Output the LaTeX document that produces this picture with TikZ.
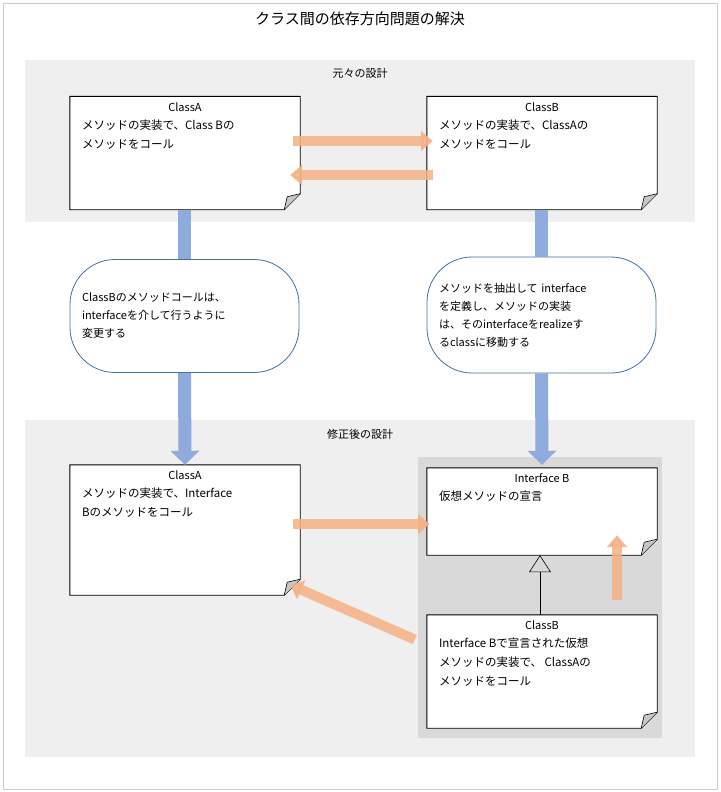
\documentclass[tikz,border=0pt]{standalone}
\usepackage{fontspec}
\setmainfont{Noto Sans CJK JP}
\usetikzlibrary{arrows.meta,positioning}
\definecolor{bandgray}{HTML}{EFEFEF}
\definecolor{boxgray}{HTML}{D9D9D9}
\definecolor{flowblue}{HTML}{8FAADC}
\definecolor{edgeblue}{HTML}{41719C}
\definecolor{callorange}{HTML}{F4B183}
\tikzset{
  notebg/.style={draw=none, rectangle, inner sep=0pt},
  notetitle/.style={font=\fontsize{11}{13}\selectfont, inner sep=0pt},
  notebody/.style={font=\fontsize{11.5}{19}\selectfont, align=left, inner sep=0pt},
  bubble/.style={draw=edgeblue, fill=white, rounded corners=45pt, line width=0.8pt,
    text width=205pt, align=left, font=\fontsize{11}{18}\selectfont, inner sep=12pt},
  flow/.style={line width=13pt, flowblue, -{Triangle[width=28pt,length=14pt]}},
  call/.style={line width=10pt, callorange, opacity=0.85, -{Triangle[width=20pt,length=12pt]}},
  band/.style={fill=bandgray, draw=none},
  heading/.style={font=\fontsize{11}{13}\selectfont}
}
% note with folded corner
\newcommand\dogear[1]{%
  \draw[fill=white, line width=0.9pt] (#1.north west) -- (#1.north east)
    -- ([yshift=16pt]#1.south east) -- ([xshift=-16pt]#1.south east)
    -- (#1.south west) -- cycle;
  \draw[fill=gray!45, line width=0.6pt] ([yshift=16pt]#1.south east)
    -- ([xshift=-13pt,yshift=13pt]#1.south east) -- ([xshift=-16pt]#1.south east);}
\newcommand\notebox[6]{%
  \node[notebg, minimum width=#3, minimum height=#4] (#1) at (#2) {};
  \dogear{#1}
  \node[notetitle, anchor=north] at ([yshift=-6pt]#1.north) {#5};
  \node[notebody, anchor=north west] at ([xshift=12pt,yshift=-23pt]#1.north west) {#6};}
\begin{document}
\begin{tikzpicture}[x=1pt, y=-1pt]
\useasboundingbox (0,0) rectangle (720,792);
\draw[gray!40] (3,3) rectangle (717,789);
\node[font=\fontsize{15}{18}\selectfont] (title) at (360,19) {クラス間の依存方向問題の解決};

\fill[band] (25,60) rectangle (695,222);
\node[heading] (before) at (360,73) {元々の設計};
\fill[band] (25,420) rectangle (695,757);
\node[heading] (after) at (360,434) {修正後の設計};
\fill[boxgray] (418,457) rectangle (662,738);

\notebox{classA}{185,153}{230pt}{113pt}{ClassA}{メソッドの実装で、Class Bの\\メソッドをコール}
\notebox{classB}{542,153}{230pt}{113pt}{ClassB}{メソッドの実装で、ClassAの\\メソッドをコール}

\node[bubble, minimum height=113pt] (moveA) at (184.5,316) {ClassBのメソッドコールは、\\interfaceを介して行うように\\変更する};
\node[bubble, minimum height=116pt] (moveB) at (541.5,315) {メソッドを抽出して interface\\を定義し、メソッドの実装\\は、そのinterfaceをrealizeす\\るclassに移動する};

\notebox{newA}{185,530}{230pt}{130pt}{ClassA}{メソッドの実装で、Interface\\Bのメソッドをコール}
\notebox{ifaceB}{542,511.5}{230pt}{87pt}{Interface B}{仮想メソッドの宣言}
\notebox{newB}{542,671.5}{230pt}{113pt}{ClassB}{Interface Bで宣言された仮想\\メソッドの実装で、 ClassAの\\メソッドをコール}

\draw[flow, -] (classA.south -| moveA) -- (moveA.north);
\draw[flow] (moveA.south) -- (newA.north);
\draw[flow, -] (classB.south -| moveB) -- (moveB.north);
\draw[flow] (moveB.south) -- ([yshift=3pt]ifaceB.north);

\draw[call] ([xshift=-7pt,yshift=12pt]classA.east) -- ([xshift=6pt,yshift=12pt]classB.west);
\draw[call] ([xshift=6pt,yshift=-22pt]classB.west) -- ([xshift=-10pt,yshift=-22pt]classA.east);

\draw[-{Triangle[open,width=22pt,length=17pt]}, line width=0.6pt, fill=white]
  (newB.north -| 540,0) -- (ifaceB.south -| 540,0);
\draw[call] ([xshift=-7pt,yshift=6pt]newA.east) -- ([xshift=3pt,yshift=-12.5pt]ifaceB.west);
\draw[call] ([xshift=75pt,yshift=15pt]newB.north) -- ([xshift=75pt,yshift=20pt]ifaceB.south);
\draw[call] ([xshift=-12pt,yshift=32pt]newB.west) -- ([xshift=-10pt,yshift=-55pt]newA.east);
\end{tikzpicture}
\end{document}
